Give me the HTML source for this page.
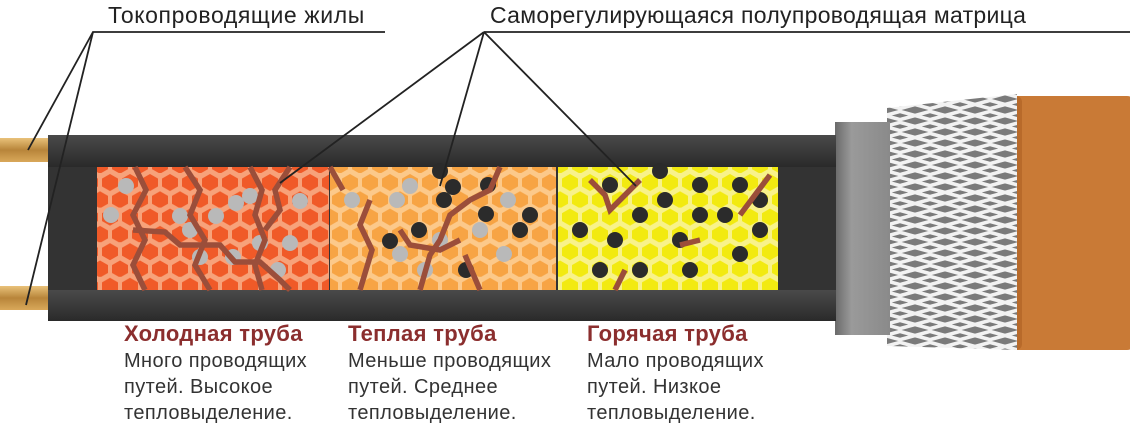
<!DOCTYPE html>
<html><head><meta charset="utf-8"><style>
body{margin:0;width:1130px;height:437px;background:#fff;overflow:hidden;font-family:"Liberation Sans","DejaVu Sans",sans-serif}
svg{position:absolute;left:0;top:0}
.t{position:absolute;font-size:20px;color:#333;line-height:26px;letter-spacing:0.4px}
.t b{color:#8b2e2e;font-size:22px;display:block;margin-bottom:1px;letter-spacing:0.3px}
.lab{position:absolute;font-size:23px;color:#222;top:2px}
</style></head><body>
<svg width="1130" height="437" viewBox="0 0 1130 437">
<defs>
<pattern id="hexR" width="20" height="34.6" patternUnits="userSpaceOnUse">
<rect width="20" height="34.6" fill="#f7a27a"/>
<polygon points="10,1 18,5.5 18,13.5 10,18 2,13.5 2,5.5" fill="#f05a28"/>
<polygon points="0,18.3 8,22.8 8,30.8 0,35.3 -8,30.8 -8,22.8" fill="#f05a28"/>
<polygon points="20,18.3 28,22.8 28,30.8 20,35.3 12,30.8 12,22.8" fill="#f05a28"/>
</pattern>
<pattern id="hexO" width="20" height="34.6" patternUnits="userSpaceOnUse">
<rect width="20" height="34.6" fill="#fcc98a"/>
<polygon points="10,1 18,5.5 18,13.5 10,18 2,13.5 2,5.5" fill="#f7a444"/>
<polygon points="0,18.3 8,22.8 8,30.8 0,35.3 -8,30.8 -8,22.8" fill="#f7a444"/>
<polygon points="20,18.3 28,22.8 28,30.8 20,35.3 12,30.8 12,22.8" fill="#f7a444"/>
</pattern>
<pattern id="hexY" width="20" height="34.6" patternUnits="userSpaceOnUse">
<rect width="20" height="34.6" fill="#f8f28a"/>
<polygon points="10,1 18,5.5 18,13.5 10,18 2,13.5 2,5.5" fill="#f2ea10"/>
<polygon points="0,18.3 8,22.8 8,30.8 0,35.3 -8,30.8 -8,22.8" fill="#f2ea10"/>
<polygon points="20,18.3 28,22.8 28,30.8 20,35.3 12,30.8 12,22.8" fill="#f2ea10"/>
</pattern>
<pattern id="braid" width="30" height="22" patternUnits="userSpaceOnUse">
<rect width="30" height="22" fill="#7a7a7a"/>
<path d="M-5,0 L35,11 M-5,11 L35,22 M-5,-11 L35,0 M-5,22 L35,11 M-5,11 L35,0 M-5,33 L35,22" stroke="#f2f2f2" stroke-width="3.5"/>
</pattern>
<linearGradient id="bar" x1="0" y1="0" x2="0" y2="1"><stop offset="0" stop-color="#4a4a4a"/><stop offset=".5" stop-color="#3a3a3a"/><stop offset="1" stop-color="#2a2a2a"/></linearGradient>
<linearGradient id="wire" x1="0" y1="0" x2="0" y2="1"><stop offset="0" stop-color="#e9c27a"/><stop offset=".5" stop-color="#b8853a"/><stop offset="1" stop-color="#d9a85a"/></linearGradient>
<linearGradient id="foam" x1="0" y1="0" x2="1" y2="0"><stop offset="0" stop-color="#6a6a6a"/><stop offset=".3" stop-color="#9a9a9a"/><stop offset="1" stop-color="#8a8a8a"/></linearGradient>
</defs>
<rect x="0" y="138" width="50" height="24" fill="url(#wire)"/>
<rect x="0" y="286" width="50" height="24" fill="url(#wire)"/>
<rect x="1010" y="96" width="125" height="254" rx="8" fill="#c97a36"/>
<rect x="1010" y="96" width="12" height="254" rx="6" fill="#b86a2a"/>
<polygon points="887,108 1017,94 1017,350 887,346" fill="url(#braid)"/>
<rect x="835" y="122" width="55" height="213" fill="url(#foam)"/>
<rect x="48" y="135" width="788" height="186" fill="#333"/>
<rect x="48" y="135" width="788" height="32" fill="url(#bar)"/>
<rect x="48" y="290" width="788" height="31" fill="url(#bar)"/>
<rect x="97" y="167" width="232" height="123" fill="url(#hexR)"/>
<rect x="330" y="167" width="226" height="123" fill="url(#hexO)"/>
<rect x="558" y="167" width="220" height="123" fill="url(#hexY)"/>
<g fill="#b9b9b9">
<circle cx="126" cy="186" r="8"/><circle cx="111" cy="215" r="8"/><circle cx="180" cy="216" r="8"/><circle cx="190" cy="230" r="8"/><circle cx="236" cy="203" r="8"/><circle cx="216" cy="216" r="8"/><circle cx="260" cy="243" r="8"/><circle cx="250" cy="196" r="8"/><circle cx="300" cy="201" r="8"/><circle cx="290" cy="243" r="8"/><circle cx="278" cy="270" r="8"/><circle cx="200" cy="257" r="8"/><circle cx="233" cy="257" r="8"/>
<circle cx="352" cy="200" r="8"/><circle cx="410" cy="186" r="8"/><circle cx="397" cy="200" r="8"/><circle cx="440" cy="240" r="8"/><circle cx="425" cy="270" r="8"/><circle cx="508" cy="200" r="8"/><circle cx="480" cy="230" r="8"/><circle cx="504" cy="254" r="8"/><circle cx="400" cy="254" r="8"/>
</g>
<g fill="#2b2b2b">
<circle cx="419" cy="230" r="8"/><circle cx="440" cy="171" r="8"/><circle cx="453" cy="187" r="8"/><circle cx="444" cy="200" r="8"/><circle cx="488" cy="185" r="8"/><circle cx="530" cy="215" r="8"/><circle cx="520" cy="230" r="8"/><circle cx="390" cy="241" r="8"/><circle cx="466" cy="270" r="8"/><circle cx="486" cy="214" r="8"/>
<circle cx="610" cy="185" r="8"/><circle cx="660" cy="171" r="8"/><circle cx="700" cy="185" r="8"/><circle cx="740" cy="185" r="8"/><circle cx="760" cy="200" r="8"/><circle cx="665" cy="200" r="8"/><circle cx="640" cy="215" r="8"/><circle cx="700" cy="215" r="8"/><circle cx="760" cy="230" r="8"/><circle cx="580" cy="230" r="8"/><circle cx="615" cy="240" r="8"/><circle cx="680" cy="240" r="8"/><circle cx="740" cy="254" r="8"/><circle cx="600" cy="270" r="8"/><circle cx="640" cy="270" r="8"/><circle cx="690" cy="270" r="8"/><circle cx="725" cy="215" r="8"/>
</g>
<g fill="none" stroke="#9b4e3a" stroke-width="5.5" stroke-linejoin="miter">
<polyline points="135,167 146,190 133,215 145,240 133,265 145,290"/>
<polyline points="185,167 200,190 190,215 205,240 195,265 210,290"/>
<polyline points="250,167 262,190 255,215 265,240 255,265 262,290"/>
<polyline points="133,230 165,232 180,245 220,245 235,262 260,262 280,280 290,290"/>
<polyline points="290,167 275,190 280,210 265,230"/>
<polyline points="330,167 343,190"/>
<polyline points="370,200 360,225 372,250 360,290"/>
<polyline points="500,167 490,190 470,200 450,215 440,240 430,255 420,290"/>
<polyline points="400,230 410,245 440,250 460,240"/>
<polyline points="465,255 480,290"/>
<polyline points="590,180 605,195 610,210 625,195 640,180"/>
<polyline points="680,245 700,240"/>
<polyline points="740,215 770,175"/>
<polyline points="615,290 625,270"/>
</g>
<g stroke="#222" stroke-width="1.8" fill="none">
<polyline points="385,32 93,32 28,150"/>
<line x1="93" y1="32" x2="26" y2="305"/>
<line x1="1130" y1="32" x2="484" y2="32"/>
<line x1="484" y1="32" x2="280" y2="183"/>
<line x1="484" y1="32" x2="440" y2="186"/>
<line x1="484" y1="32" x2="636" y2="186"/>
</g>
</svg>
<div class="lab" style="left:108px;letter-spacing:0.6px">Токопроводящие жилы</div>
<div class="lab" style="left:490px;letter-spacing:0.3px">Саморегулирующаяся полупроводящая матрица</div>
<div class="t" style="left:124px;top:321px"><b>Холодная труба</b>Много проводящих<br>путей. Высокое<br>тепловыделение.</div>
<div class="t" style="left:348px;top:321px"><b>Теплая труба</b>Меньше проводящих<br>путей. Среднее<br>тепловыделение.</div>
<div class="t" style="left:587px;top:321px"><b>Горячая труба</b>Мало проводящих<br>путей. Низкое<br>тепловыделение.</div>
</body></html>
